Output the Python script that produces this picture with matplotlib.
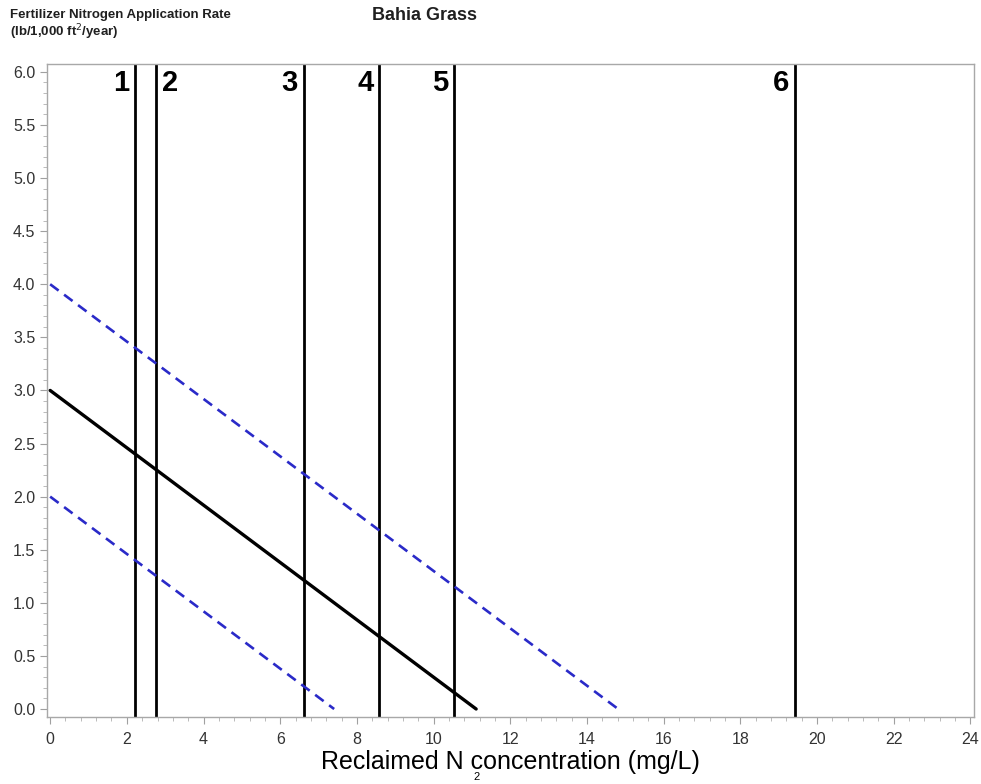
import numpy as np
import matplotlib.pyplot as plt
from matplotlib.ticker import MultipleLocator

plt.rcParams['font.family'] = ['Liberation Sans', 'DejaVu Sans']

# recommended N rate line and +/- 1 lb band
slope = -0.27
intercepts = [3.0, 4.0, 2.0]
line_styles = ['main', 'band', 'band']

# reclaimed water N concentrations for scenarios 1-6
scenario_labels = ['1', '2', '3', '4', '5', '6']
scenario_x = [2.22, 2.77, 6.61, 8.59, 10.54, 19.43]
label_side = ['left', 'right', 'left', 'left', 'left', 'left']

fig = plt.figure(figsize=(9.81, 7.84), dpi=100)
ax = fig.add_axes([0.048, 0.0855, 0.945, 0.833])

for b, kind in zip(intercepts, line_styles):
    x = np.array([0, -b / slope])
    y = b + slope * x
    if kind == 'main':
        ax.plot(x, y, color='black', lw=2.4, solid_capstyle='round', zorder=3)
    else:
        ax.plot(x, y, color='#2a2ac8', lw=1.9, dashes=(4, 2.6), zorder=3)

for lab, xv, side in zip(scenario_labels, scenario_x, label_side):
    ax.axvline(xv, color='black', lw=2.0, zorder=2)
    if side == 'left':
        ax.text(xv - 0.15, 6.03, lab, ha='right', va='top', fontsize=21,
                fontweight='bold', color='black')
    else:
        ax.text(xv + 0.15, 6.03, lab, ha='left', va='top', fontsize=21,
                fontweight='bold', color='black')

ax.set_xlim(-0.08, 24.1)
ax.set_ylim(-0.075, 6.075)
ax.xaxis.set_major_locator(MultipleLocator(2))
ax.xaxis.set_minor_locator(MultipleLocator(0.4))
ax.yaxis.set_major_locator(MultipleLocator(0.5))
ax.yaxis.set_minor_locator(MultipleLocator(0.1))
ax.yaxis.set_major_formatter(plt.FormatStrFormatter('%.1f'))

for s in ax.spines.values():
    s.set_color('#a8a8a8')
    s.set_linewidth(1.0)
ax.tick_params(which='major', length=5, color='#a0a0a0', labelsize=11.5,
               labelcolor='#333333')
ax.tick_params(which='minor', length=3, color='#b0b0b0')
ax.tick_params(axis='x', pad=6)

ax.set_xlabel('Reclaimed N concentration (mg/L)', fontsize=18, labelpad=2)
fig.text(0.01, 0.967, 'Fertilizer Nitrogen Application Rate\n(lb/1,000 ft$^2$/year)',
         fontsize=9.5, fontweight='bold', color='#202020', va='center',
         linespacing=1.1)
fig.text(0.433, 0.98, 'Bahia Grass', fontsize=13, fontweight='bold',
         ha='center', va='center', color='#202020')
fig.text(0.486, 0.002, '2', fontsize=8, ha='center', va='bottom')

fig.savefig('out.png', dpi=100)
